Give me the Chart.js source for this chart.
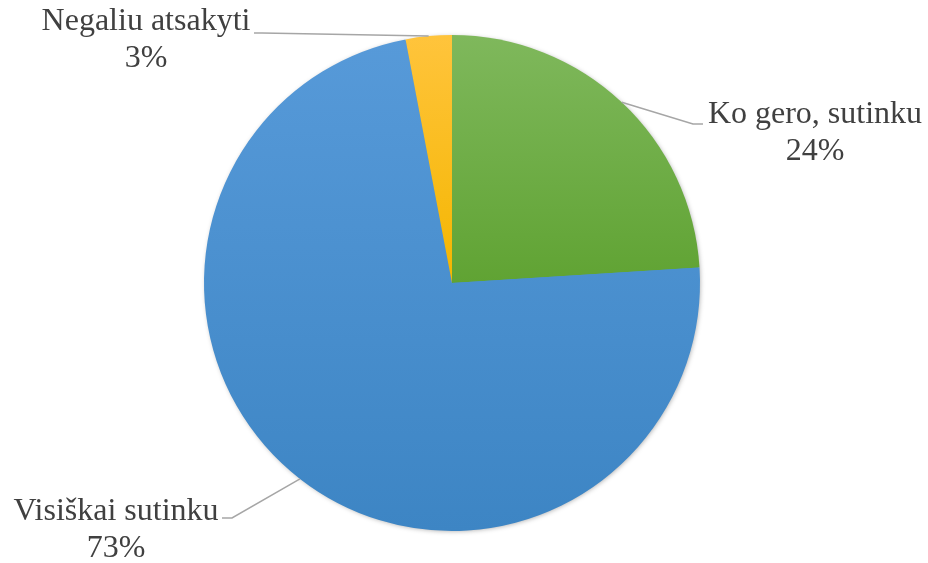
<!DOCTYPE html>
<html>
<head>
<meta charset="utf-8">
<script src="https://cdn.jsdelivr.net/npm/chart.js@4.4.0/dist/chart.umd.min.js"></script>
<style>
  html, body { margin: 0; padding: 0; background: #fff; }
  #wrap { width: 928px; height: 563px; }
</style>
</head>
<body>
<div id="wrap"><canvas id="myChart" width="928" height="563"></canvas></div>
<script>
// data, clockwise from 12 o'clock
const categories = ['Ko gero, sutinku', 'Visiškai sutinku', 'Negaliu atsakyti'];
const shares = [24, 73, 3];

// top / bottom gradient colours per slice
const sliceColors = [
  ['#7fb85c', '#60a333'],
  ['#579ad9', '#3d85c4'],
  ['#ffc43c', '#f4b600']
];

// where each label sits (text centre) and the elbow of its leader line
const labelLayout = [
  { x: 815, y: 115, elbow: [693, 124], end: [703, 124] },
  { x: 116, y: 512, elbow: [232, 518], end: [222, 518] },
  { x: 146, y: 22,  elbow: [262, 33],  end: [254, 33] }
];

function sliceFill(context) {
  const chart = context.chart;
  const area = chart.chartArea;
  const c = sliceColors[context.dataIndex];
  if (!area) return c[0];
  const midY = (area.top + area.bottom) / 2;
  const bottom = context.dataIndex === 1 ? area.bottom : midY;
  const g = chart.ctx.createLinearGradient(0, area.top, 0, bottom);
  g.addColorStop(0, c[0]);
  g.addColorStop(1, c[1]);
  return g;
}

const shadowPlugin = {
  id: 'pieShadow',
  beforeDatasetsDraw(chart) {
    const arc = chart.getDatasetMeta(0).data[0];
    if (!arc) return;
    const ctx = chart.ctx;
    ctx.save();
    ctx.shadowColor = 'rgba(0,0,0,0.35)';
    ctx.shadowBlur = 5;
    ctx.shadowOffsetX = 1;
    ctx.shadowOffsetY = 1;
    ctx.fillStyle = '#4a8fcf';
    ctx.beginPath();
    ctx.arc(arc.x, arc.y, arc.outerRadius - 1, 0, Math.PI * 2);
    ctx.fill();
    ctx.restore();
  }
};

const labelPlugin = {
  id: 'outerLabels',
  afterDatasetsDraw(chart) {
    const ctx = chart.ctx;
    const meta = chart.getDatasetMeta(0);
    const total = shares.reduce((a, b) => a + b, 0);
    ctx.save();
    meta.data.forEach((arc, i) => {
      const lay = labelLayout[i];
      const mid = (arc.startAngle + arc.endAngle) / 2;
      const sx = arc.x + Math.cos(mid) * arc.outerRadius;
      const sy = arc.y + Math.sin(mid) * arc.outerRadius;
      ctx.strokeStyle = '#a6a6a6';
      ctx.lineWidth = 1.5;
      ctx.beginPath();
      ctx.moveTo(sx, sy);
      ctx.lineTo(lay.elbow[0], lay.elbow[1]);
      ctx.lineTo(lay.end[0], lay.end[1]);
      ctx.stroke();

      ctx.fillStyle = '#404040';
      ctx.font = '32px "Liberation Serif", "Times New Roman", serif';
      ctx.textAlign = 'center';
      ctx.textBaseline = 'middle';
      ctx.fillText(categories[i], lay.x, lay.y);
      ctx.fillText(Math.round(shares[i] / total * 100) + '%', lay.x, lay.y + 37);
    });
    ctx.restore();
  }
};

const ctx = document.getElementById('myChart').getContext('2d');
const myChart = new Chart(ctx, {
  type: 'pie',
  data: {
    labels: categories,
    datasets: [{
      data: shares,
      backgroundColor: sliceFill,
      borderWidth: 0
    }]
  },
  options: {
    responsive: false,
    animation: false,
    layout: { padding: { top: 35, bottom: 32, left: 204, right: 228 } },
    plugins: {
      legend: { display: false },
      tooltip: { enabled: false }
    }
  },
  plugins: [shadowPlugin, labelPlugin]
});
</script>
</body>
</html>
